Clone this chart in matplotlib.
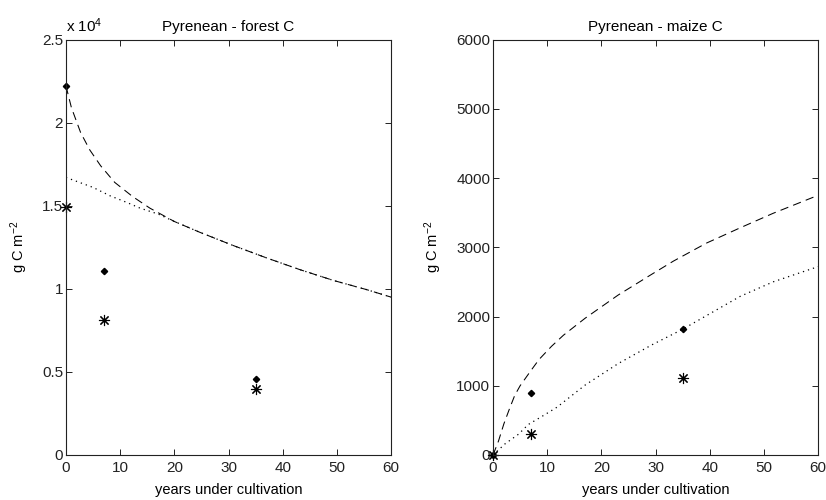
import matplotlib
matplotlib.use("Agg")
import matplotlib.pyplot as plt
from matplotlib.ticker import FixedLocator, FuncFormatter

plt.rcParams['font.family'] = ['Liberation Sans', 'DejaVu Sans']
plt.rcParams['mathtext.fontset'] = 'custom'
plt.rcParams['mathtext.rm'] = 'Liberation Sans'
plt.rcParams['mathtext.it'] = 'Liberation Sans:italic'
plt.rcParams['font.size'] = 11

# ---- Data: forest C panel ----
forest_dash_years = [0, 1, 2.7, 4.4, 6.4, 9, 12.3, 15.5, 20, 24.7, 30.9, 37.1, 43.2, 49.4, 55.5, 60]
forest_dash_vals = [22200, 20900, 19400, 18350, 17400, 16400, 15550, 14850, 14050, 13400, 12600,
                    11850, 11150, 10500, 9950, 9500]
forest_dot_years = [0, 5, 8.1, 11.2, 13.7, 17, 20, 24.7, 30.9, 37.1, 43.2, 49.4, 55.5, 60]
forest_dot_vals = [16700, 16100, 15600, 15200, 14850, 14500, 14050, 13400, 12600, 11850, 11150,
                   10500, 9950, 9500]
forest_diam_years = [0, 7, 35]
forest_diam_vals = [22200, 11100, 4600]
forest_star_years = [0, 7, 35]
forest_star_vals = [14900, 8150, 3950]

# ---- Data: maize C panel ----
maize_dash_years = [0, 1, 2, 3, 4, 5, 7, 8.5, 10.8, 13, 17, 23.1, 29.3, 33.3, 39.4, 45.6, 51.7, 60]
maize_dash_vals = [0, 200, 450, 660, 860, 1000, 1220, 1380, 1570, 1730, 1975, 2310, 2610, 2800,
                   3060, 3280, 3490, 3750]
maize_dot_years = [0, 2.2, 4.7, 6.5, 9.3, 11.8, 17, 23.1, 29.3, 35, 45.6, 51.7, 60]
maize_dot_vals = [0, 160, 300, 440, 570, 690, 1010, 1320, 1590, 1816, 2290, 2500, 2720]
maize_diam_years = [0, 7, 35]
maize_diam_vals = [0, 890, 1816]
maize_star_years = [0, 7, 35]
maize_star_vals = [0, 300, 1117]

x_ticks = [0, 10, 20, 30, 40, 50, 60]
forest_yticks = [0, 5000, 10000, 15000, 20000, 25000]
maize_yticks = [0, 1000, 2000, 3000, 4000, 5000, 6000]

fig = plt.figure(figsize=(8.26, 5.0), dpi=100)
ax1 = fig.add_axes([0.0799, 0.09, 0.3935, 0.831])
ax2 = fig.add_axes([0.5969, 0.09, 0.3935, 0.831])

star = (8, 2, 0)


def style(ax):
    for s in ax.spines.values():
        s.set_linewidth(0.8)
        s.set_color('#222222')
    ax.tick_params(direction='in', length=4, width=0.7, top=True, right=True,
                   labelsize=11, pad=2, colors='#222222', labelcolor='#222222')
    ax.tick_params(axis='x', pad=4)
    ax.set_xlim(0, 60)
    ax.xaxis.set_major_locator(FixedLocator(x_ticks))
    ax.set_xlabel('years under cultivation', fontsize=10.5, labelpad=6)
    ax.set_ylabel('g C m$^{-2}$', fontsize=10.5, labelpad=9)


# Left panel
ax1.plot(forest_dash_years, forest_dash_vals, color='black', lw=0.75, dashes=(8, 5))
ax1.plot(forest_dot_years, forest_dot_vals, color='black', lw=0.9, dashes=(1, 3.2))
ax1.plot(forest_diam_years, forest_diam_vals, ls='none', marker='D', ms=3.2, color='black', clip_on=False)
ax1.plot(forest_star_years, forest_star_vals, ls='none', marker=star, ms=8, mew=0.8, color='black', clip_on=False)
ax1.set_ylim(0, 25000)
ax1.yaxis.set_major_locator(FixedLocator(forest_yticks))
ax1.yaxis.set_major_formatter(FuncFormatter(lambda v, p: ('%g' % (v / 1e4))))
style(ax1)
ax1.set_title('Pyrenean - forest C', fontsize=11, pad=6)
ax1.text(0.0, 1.012, 'x 10$^{4}$', transform=ax1.transAxes, fontsize=11, ha='left', va='bottom')

# Right panel
ax2.plot(maize_dash_years, maize_dash_vals, color='black', lw=0.75, dashes=(8, 5))
ax2.plot(maize_dot_years, maize_dot_vals, color='black', lw=0.9, dashes=(1, 3.2))
ax2.plot(maize_diam_years, maize_diam_vals, ls='none', marker='D', ms=3.2, color='black', clip_on=False)
ax2.plot(maize_star_years, maize_star_vals, ls='none', marker=star, ms=8, mew=0.8, color='black', clip_on=False)
ax2.set_ylim(0, 6000)
ax2.yaxis.set_major_locator(FixedLocator(maize_yticks))
style(ax2)
ax2.set_title('Pyrenean - maize C', fontsize=11, pad=6)

fig.savefig('out.png', dpi=100)
